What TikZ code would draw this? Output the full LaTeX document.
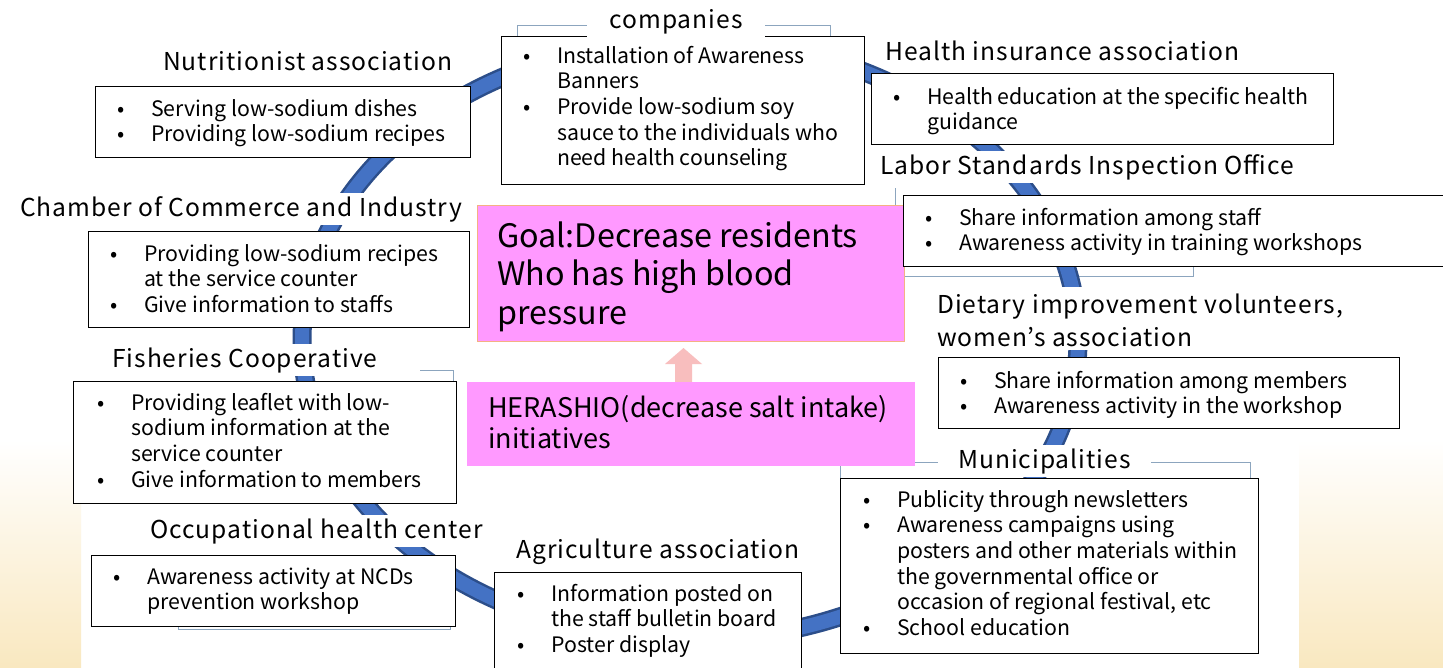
\documentclass[tikz,border=0pt]{standalone}
\usepackage{fontspec}
\setmainfont{Noto Sans CJK JP}
\newfontfamily\titfam[LetterSpace=4]{Noto Sans CJK JP}
\definecolor{ringblue}{RGB}{68,114,196}
\definecolor{ringedge}{RGB}{44,78,138}
\definecolor{goalpink}{RGB}{255,153,255}
\definecolor{goalborder}{RGB}{244,177,131}
\definecolor{arrowpink}{RGB}{248,190,190}
\definecolor{brkcol}{RGB}{140,165,190}
\definecolor{cream}{RGB}{249,232,192}
\newcommand\bodyfont{\fontsize{21.3}{25.6}\selectfont}
\newcommand\titlefont{\titfam\fontsize{24.6}{33}\selectfont}
\newcommand\bu{\makebox[34pt][l]{•}}
\newcommand\ct{\hspace*{34pt}}
\tikzset{
  box/.style={draw=black, line width=1.3pt, fill=white, anchor=north west, inner sep=0pt},
  txt/.style={anchor=north west, inner sep=0pt, align=left, font=\bodyfont},
  tit/.style={fill=white, inner xsep=8pt, inner ysep=3pt, font=\titlefont},
  brk/.style={draw=brkcol, line width=1pt},
  pinkbox/.style={fill=goalpink, anchor=north west, inner sep=0pt}
}
\begin{document}
\begin{tikzpicture}[x=1pt,y=-1pt]
\useasboundingbox (0,0) rectangle (1443,667);
\fill[white] (0,0) rectangle (1443,667);
% background corners
\shade[top color=white, bottom color=cream] (0,440) rectangle (81,667);
\shade[top color=white, bottom color=cream] (1299,440) rectangle (1443,667);
% bracket lines
\draw[brk] (517,36) -- (517,25) -- (830,25) -- (830,36);
\draw[brk] (840,478) -- (840,462) -- (1250,462) -- (1250,478);
\draw[brk] (420,370) -- (453,370) -- (453,381);
\draw[brk] (895,188) -- (895,276) -- (1193,276) -- (1193,266);
\draw[brk] (178,626) -- (178,629) -- (450,629) -- (450,626);
% ring
\draw[ringedge, line width=19pt] (690,340) ellipse [x radius=388pt, y radius=300pt];
\draw[ringblue, line width=14pt] (690,340) ellipse [x radius=388pt, y radius=300pt];
% pink arrow
\fill[arrowpink] (675,382) -- (675,364) -- (665,364) -- (683.5,348) -- (702,364) -- (692,364) -- (692,382) -- cycle;
% goal
\node[pinkbox, draw=goalborder, line width=1pt, minimum width=427pt, minimum height=136pt] (goal) at (477,205) {};
\node[anchor=north west, inner sep=0pt, align=left, font=\fontsize{32.3}{38.5}\selectfont] (goalT) at (497,220.05) {\strut Goal:Decrease residents\\Who has high blood\\pressure};
% herashio
\node[pinkbox, minimum width=448pt, minimum height=84pt] (hera) at (467,382) {};
\node[anchor=north west, inner sep=0pt, align=left, font=\fontsize{27}{31}\selectfont] (heraT) at (488,395.3) {\strut HERASHIO(decrease salt intake)\\initiatives};
% nutritionist
\node[box, minimum width=375pt, minimum height=71pt] (nutB) at (95,86) {};
\node[txt] (nutT) at (117,98.08) {\strut\bu Serving low-sodium dishes\\\bu Providing low-sodium recipes};
\node[tit, anchor=base west] (nutL) at (155,70) {Nutritionist association};
% companies
\node[box, minimum width=363pt, minimum height=148pt] (comB) at (501,36) {};
\node[txt] (comT) at (523,45.08) {\strut\bu Installation of Awareness\\\ct Banners\\\bu Provide low-sodium soy\\\ct sauce to the individuals who\\\ct need health counseling};
\node[tit, anchor=base, inner xsep=22pt] (comL) at (676,28) {companies};
% health insurance
\node[box, minimum width=462pt, minimum height=71pt] (hiB) at (871,73) {};
\node[txt] (hiT) at (893,86.08) {\strut\bu Health education at the specific health\\\ct guidance};
\node[tit, anchor=base west] (hiL) at (877,60) {Health insurance association};
% labor
\node[box, minimum width=560pt, minimum height=71pt] (labB) at (903,195) {};
\node[txt] (labT) at (925,207.08) {\strut\bu Share information among staff\\\bu Awareness activity in training workshops};
\node[tit, anchor=base west] (labL) at (872,174) {Labor Standards Inspection Office};
% chamber
\node[box, minimum width=381pt, minimum height=96pt] (chaB) at (88,231) {};
\node[txt] (chaT) at (110,243.08) {\strut\bu Providing low-sodium recipes\\\ct at the service counter\\\bu Give information to staffs};
\node[tit, anchor=base west] (chaL) at (12,216) {Chamber of Commerce and Industry};
% dietary
\node[box, minimum width=461pt, minimum height=71pt] (dieB) at (938,357) {};
\node[txt] (dieT) at (960,370.08) {\strut\bu Share information among members\\\bu Awareness activity in the workshop};
\node[tit, anchor=north west, align=left] (dieL) at (929,286.9) {\strut Dietary improvement volunteers,\\women’s association};
% fisheries
\node[box, minimum width=383pt, minimum height=122pt] (fisB) at (73,381) {};
\node[txt] (fisT) at (97,392.08) {\strut\bu Providing leaflet with low-\\\ct sodium information at the\\\ct service counter\\\bu Give information to members};
\node[tit, anchor=base west] (fisL) at (104,367) {Fisheries Cooperative};
% municipalities
\node[box, minimum width=418pt, minimum height=175pt] (munB) at (840,478) {};
\node[txt] (munT) at (863,489.08) {\strut\bu Publicity through newsletters\\\bu Awareness campaigns using\\\ct posters and other materials within\\\ct the governmental office or\\\ct occasion of regional festival, etc\\\bu School education};
\node[tit, anchor=base west, inner xsep=20pt] (munL) at (938,468) {Municipalities};
% occupational
\node[box, minimum width=364pt, minimum height=71pt] (occB) at (91,555) {};
\node[txt] (occT) at (113,566.08) {\strut\bu Awareness activity at NCDs\\\ct prevention workshop};
\node[tit, anchor=base west] (occL) at (142,538) {Occupational health center};
% agriculture
\node[box, minimum width=307pt, minimum height=110pt] (agrB) at (494,572) {};
\node[txt] (agrT) at (517,583.08) {\strut\bu Information posted on\\\ct the staff bulletin board\\\bu Poster display};
\node[tit, anchor=base west] (agrL) at (508,558) {Agriculture association};
\end{tikzpicture}
\end{document}
